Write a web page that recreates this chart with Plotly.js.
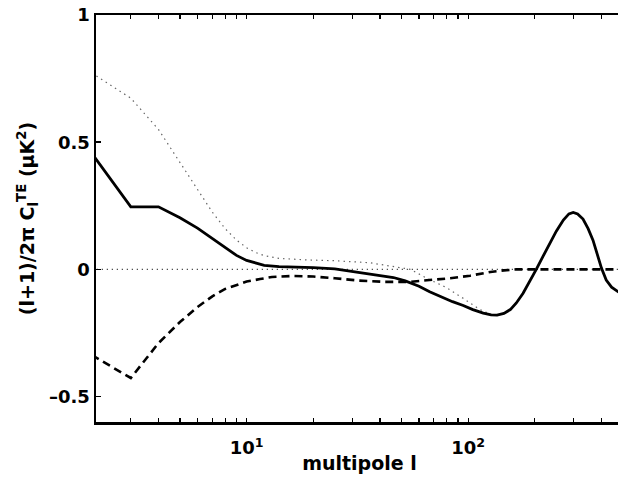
<!DOCTYPE html>
<html>
<head>
<meta charset="utf-8">
<script src="https://cdn.plot.ly/plotly-3.0.1.min.js"></script>
<style>
html,body{margin:0;padding:0;overflow:hidden;background:#fff;width:618px;height:482px;}
#chart{width:624px;height:482px;}
</style>
</head>
<body>
<div id="chart"></div>
<script>
// multipole l values and C_l^TE values (muK^2)
const ellSolid = [2, 3, 4, 5, 6, 7, 8, 9, 10, 11, 12, 14, 16, 20, 25, 30, 35, 40, 46, 52, 60, 67, 75, 85, 95, 105, 117, 127, 135, 145, 155, 165, 177, 190, 203, 218, 234, 250, 269, 285, 298, 312, 330, 348, 366, 383, 400, 420, 444, 475, 500];
const cteSolid = [0.456, 0.246, 0.246, 0.203, 0.162, 0.121, 0.085, 0.055, 0.035, 0.024, 0.016, 0.011, 0.010, 0.007, 0.002, -0.008, -0.017, -0.024, -0.032, -0.045, -0.066, -0.088, -0.108, -0.127, -0.142, -0.158, -0.172, -0.179, -0.180, -0.173, -0.158, -0.132, -0.094, -0.048, 0.0, 0.052, 0.102, 0.150, 0.194, 0.218, 0.224, 0.218, 0.198, 0.160, 0.115, 0.058, 0.004, -0.042, -0.070, -0.088, -0.090];

const ellDash = [2, 3, 4, 5, 6, 7, 8, 9, 10, 11.5, 13, 16, 20, 25, 32, 42, 55, 69, 83, 102, 115, 126, 145, 165, 200, 500];
const cteDash = [-0.337, -0.427, -0.290, -0.207, -0.148, -0.106, -0.077, -0.060, -0.048, -0.038, -0.030, -0.026, -0.028, -0.035, -0.044, -0.049, -0.049, -0.041, -0.035, -0.025, -0.016, -0.010, -0.004, 0.0, 0.0, 0.0];

const ellDot = [2, 3, 4, 5, 6, 7, 8, 9, 10, 11, 12, 14, 19, 25, 36, 46, 55, 65, 80, 95, 113, 127, 135, 145, 155, 165, 177, 190, 203, 218, 234, 250, 269, 285, 298, 312, 330, 348, 366, 383, 400, 420, 444, 475, 500];
const cteDot = [0.772, 0.673, 0.550, 0.420, 0.310, 0.225, 0.160, 0.115, 0.085, 0.066, 0.054, 0.043, 0.037, 0.034, 0.026, 0.012, 0.0, -0.035, -0.072, -0.114, -0.158, -0.178, -0.180, -0.173, -0.158, -0.132, -0.094, -0.048, 0.0, 0.052, 0.102, 0.150, 0.194, 0.218, 0.224, 0.218, 0.198, 0.160, 0.115, 0.058, 0.004, -0.042, -0.070, -0.088, -0.090];

const ellZero = [2, 500];
const cteZero = [0, 0];

const xMajorTicks = [10, 100];
const xMajorLabels = ['10<sup>1</sup>', '10<sup>2</sup>'];
const xMinorTicks = [3, 4, 5, 6, 7, 8, 9, 10, 20, 30, 40, 50, 60, 70, 80, 90, 100, 200, 300, 400];
const yTicks = [-0.5, 0, 0.5, 1];
const yLabels = ['–0.5', '0', '0.5', '1'];

const traces = [
  {x: ellZero, y: cteZero, mode: 'lines', line: {color: '#222', width: 1.2, dash: '1px,4px'}},
  {x: ellDot, y: cteDot, mode: 'lines', line: {color: '#666', width: 1.2, dash: '1.5px,4px'}},
  {x: ellDash, y: cteDash, mode: 'lines', line: {color: '#000', width: 2.6, dash: '8px,5px'}},
  {x: ellSolid, y: cteSolid, mode: 'lines', line: {color: '#000', width: 2.8}}
];

const FAM = 'DejaVu Sans';

const layout = {
  width: 624, height: 482,
  margin: {l: 96, r: 1, t: 15, b: 60},
  paper_bgcolor: '#fff', plot_bgcolor: '#fff',
  showlegend: false,
  xaxis: {
    type: 'log', range: [0.32, 2.699],
    showline: true, linecolor: '#000', linewidth: 2.5, mirror: 'ticks',
    ticks: 'outside', ticklen: 8, tickwidth: 1, tickcolor: 'rgba(0,0,0,0)',
    tickmode: 'array', tickvals: xMajorTicks, ticktext: xMajorLabels,
    minor: {tickmode: 'array', tickvals: xMinorTicks, ticks: 'inside', ticklen: 4, tickwidth: 1.2, tickcolor: '#000', showgrid: false},
    showgrid: false, zeroline: false,
    tickfont: {family: FAM, size: 18, color: '#000', weight: 'bold'},
    title: {text: 'multipole l', font: {family: FAM, size: 19, color: '#000', weight: 'bold'}, standoff: 0}
  },
  yaxis: {
    range: [-0.6, 1],
    showline: true, linecolor: '#000', linewidth: 2.5, mirror: false,
    ticks: 'inside', ticklen: 5, tickwidth: 1.5, tickcolor: '#000',
    tickmode: 'array', tickvals: yTicks, ticktext: yLabels,
    showgrid: false, zeroline: false,
    tickfont: {family: FAM, size: 18, color: '#000', weight: 'bold'},
    title: {text: '(l+1)/2π C<sub>l</sub><sup>TE</sup> (μK<sup>2</sup>)', font: {family: FAM, size: 19, color: '#000', weight: 'bold'}, standoff: 10}
  }
};

Plotly.newPlot('chart', traces, layout, {displayModeBar: false, staticPlot: true});
</script>
</body>
</html>
